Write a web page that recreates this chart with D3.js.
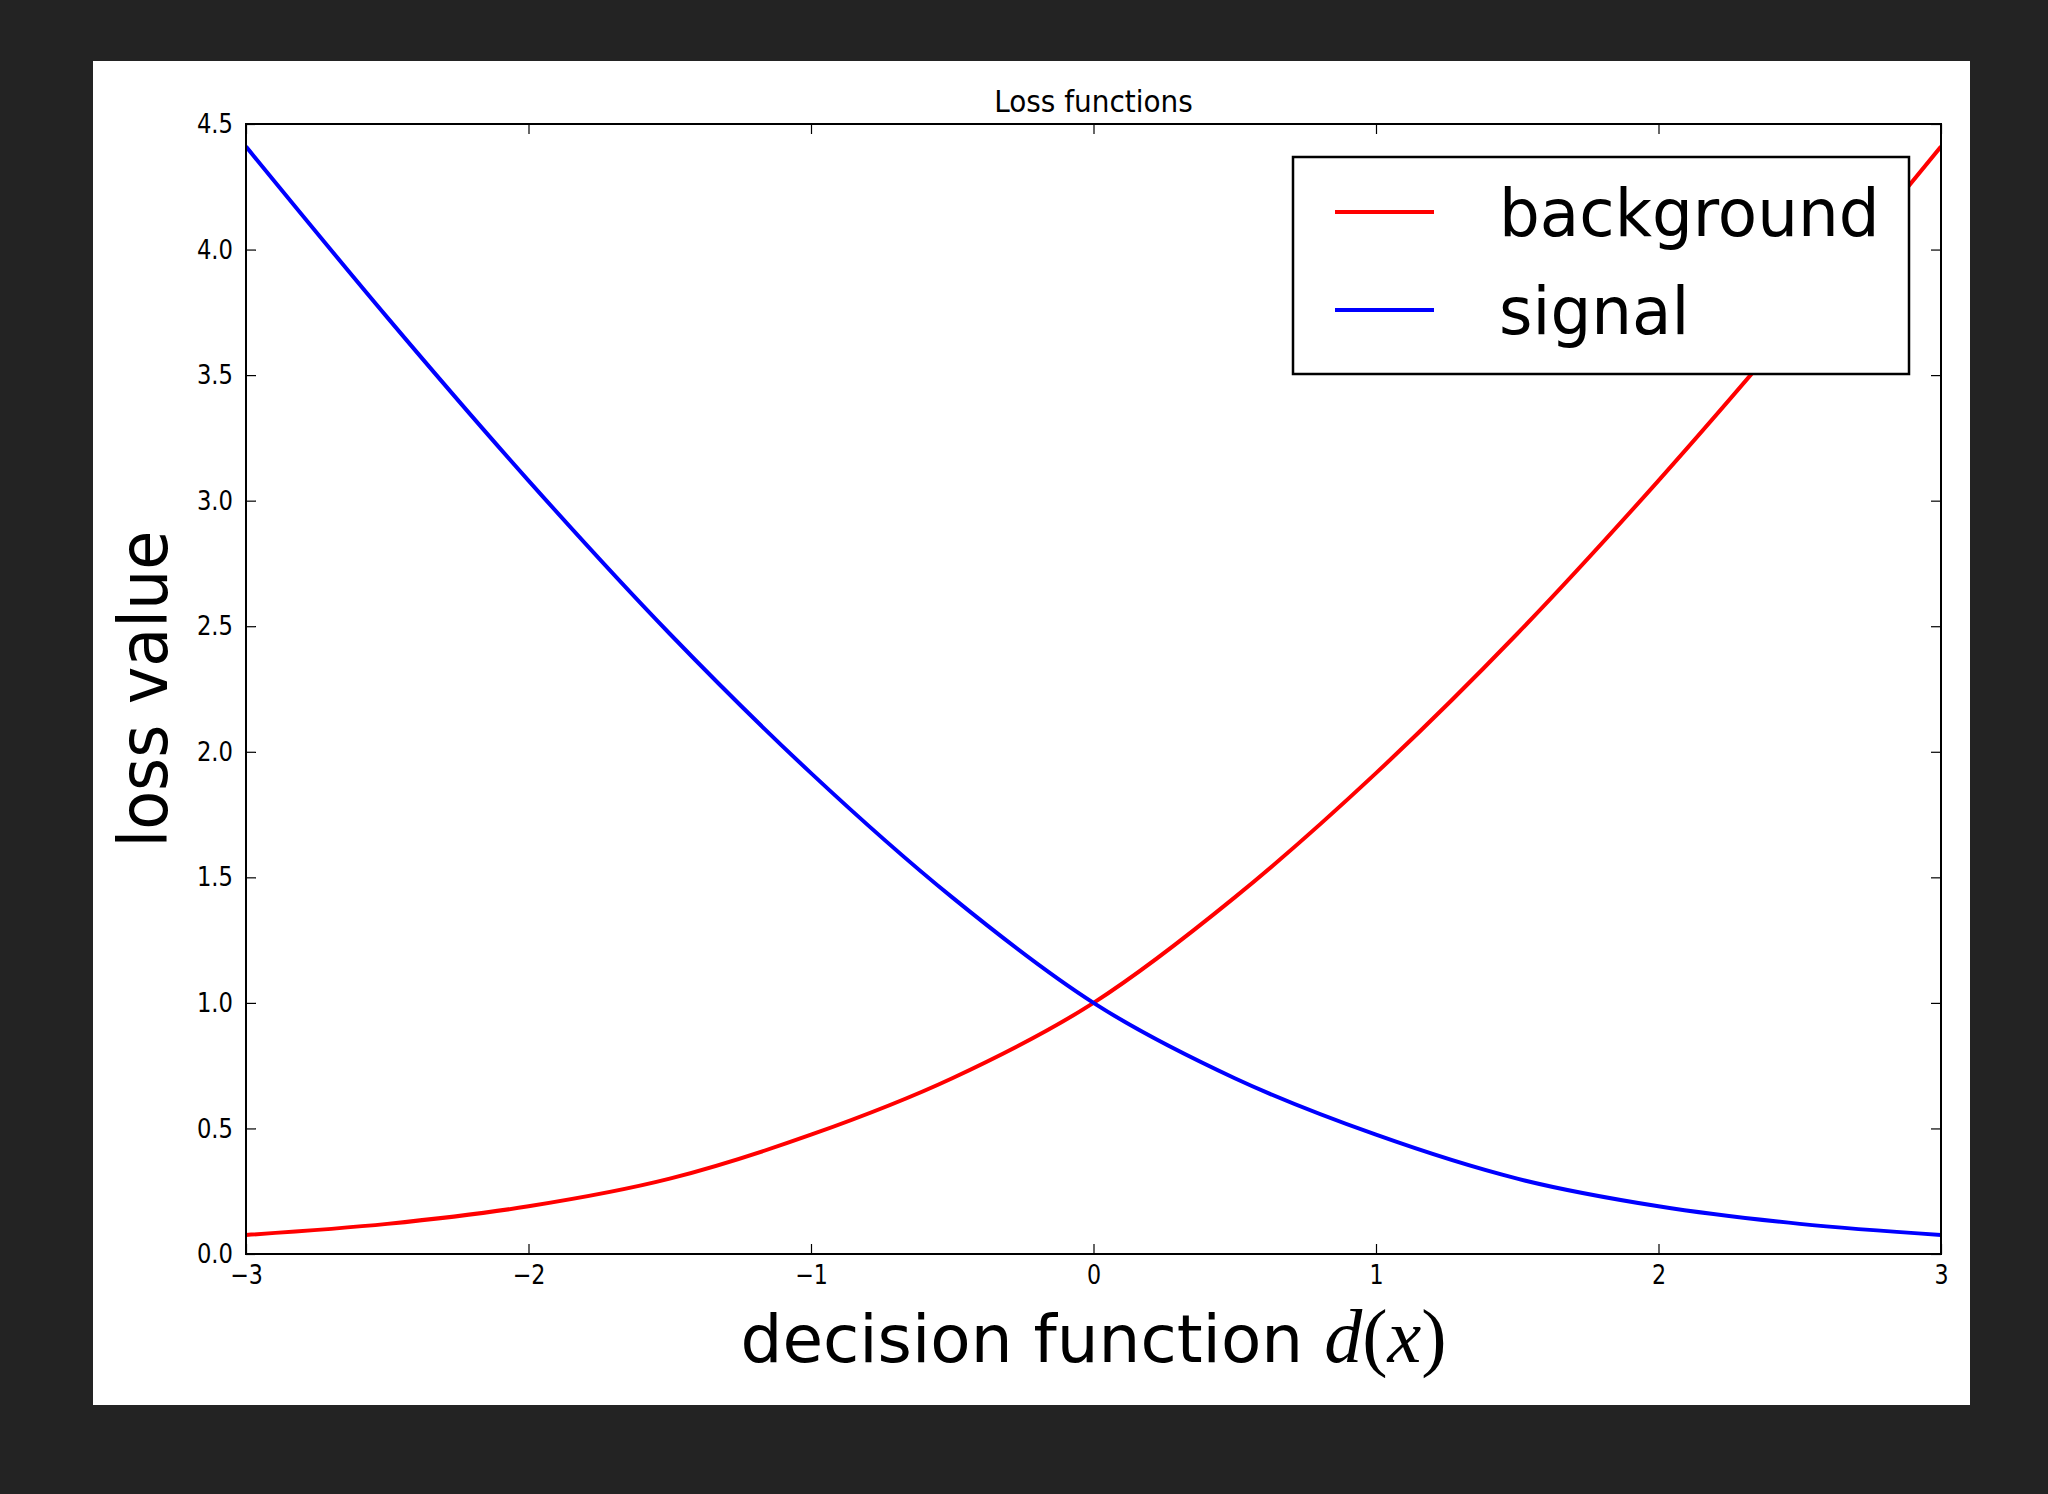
<!DOCTYPE html>
<html>
<meta charset="utf-8">
<script src="https://cdn.jsdelivr.net/npm/d3@7"></script>
<style>
  body { margin: 0; background: #232323; }
  text { font-family: "DejaVu Sans"; fill: #000; }
</style>
<body>
<div id="plot_area"></div>
</body>
<script>

// values
var xValues = [-3, -2.5, -2, -1.5, -1, -0.5, 0, 0.5, 1, 1.5, 2, 2.5, 3];
var backgroundLoss = [0.076, 0.12, 0.19, 0.30, 0.475, 0.70, 1.0, 1.42, 1.915, 2.47, 3.08, 3.73, 4.41];
var signalLoss = [4.41, 3.73, 3.08, 2.47, 1.915, 1.42, 1.0, 0.70, 0.475, 0.30, 0.19, 0.12, 0.076];
var xTicks = [-3, -2, -1, 0, 1, 2, 3];
var yTicks = [0, 0.5, 1, 1.5, 2, 2.5, 3, 3.5, 4, 4.5];
var seriesNames = ["background", "signal"];
var seriesColors = ["#ff0000", "#0000ff"];

var W = 2048, H = 1494;
var margin = {top: 124, right: 107, bottom: 240, left: 246},
    width = W - margin.left - margin.right,
    height = H - margin.top - margin.bottom;

var root = d3.select("#plot_area")
  .append("svg")
    .attr("width", W)
    .attr("height", H);

// white figure panel
root.append("rect")
  .attr("x", 93).attr("y", 61)
  .attr("width", 1877).attr("height", 1344)
  .attr("fill", "#ffffff");

var svg = root.append("g")
  .attr("transform", "translate(" + margin.left + "," + margin.top + ")");

var x = d3.scaleLinear().domain([-3, 3]).range([0, width]);
var y = d3.scaleLinear().domain([0, 4.5]).range([height, 0]);

function squeeze(sel, k) {
  sel.each(function() {
    var w = this.getComputedTextLength();
    d3.select(this).attr("textLength", w * k).attr("lengthAdjust", "spacingAndGlyphs");
  });
}

var fmtX = function(d) { return d < 0 ? "\u2212" + Math.abs(d) : "" + d; };

// bottom + left axes with inward ticks
var gx = svg.append("g")
  .attr("transform", "translate(0," + height + ")")
  .call(d3.axisBottom(x).tickValues(xTicks).tickFormat(fmtX)
    .tickSizeInner(-10).tickSizeOuter(0).tickPadding(11));
var gy = svg.append("g")
  .call(d3.axisLeft(y).tickValues(yTicks).tickFormat(d3.format(".1f"))
    .tickSizeInner(-10).tickSizeOuter(0).tickPadding(13));
// top + right: ticks only
svg.append("g")
  .call(d3.axisTop(x).tickValues(xTicks).tickFormat("")
    .tickSizeInner(-10).tickSizeOuter(0));
svg.append("g")
  .attr("transform", "translate(" + width + ",0)")
  .call(d3.axisRight(y).tickValues(yTicks).tickFormat("")
    .tickSizeInner(-10).tickSizeOuter(0));

svg.selectAll(".domain").remove();
svg.selectAll(".tick line").attr("stroke", "#000").attr("stroke-width", 1.2);
svg.selectAll(".tick text")
  .style("font-family", "DejaVu Sans")
  .style("font-size", "27px")
  .attr("fill", "#1a1a1a");
squeeze(gx.selectAll(".tick text"), 0.82);
squeeze(gy.selectAll(".tick text"), 0.84);

// curves
var line = d3.line()
  .x(function(d) { return x(d[0]); })
  .y(function(d) { return y(d[1]); })
  .curve(d3.curveMonotoneX);

svg.append("clipPath").attr("id", "clip")
  .append("rect").attr("width", width).attr("height", height);

[backgroundLoss, signalLoss].forEach(function(vals, i) {
  svg.append("path")
    .datum(xValues.map(function(v, j) { return [v, vals[j]]; }))
    .attr("clip-path", "url(#clip)")
    .attr("fill", "none")
    .attr("stroke", seriesColors[i])
    .attr("stroke-width", 4)
    .attr("d", line);
});

// axes frame
svg.append("rect")
  .attr("width", width).attr("height", height)
  .attr("fill", "none")
  .attr("stroke", "#000")
  .attr("stroke-width", 2);

// legend
var legW = 616, legH = 217;
var legend = svg.append("g")
  .attr("transform", "translate(" + (width - 32 - legW) + ",33)");
legend.append("rect")
  .attr("width", legW).attr("height", legH)
  .attr("fill", "#fff")
  .attr("stroke", "#000")
  .attr("stroke-width", 2.5);
seriesNames.forEach(function(name, i) {
  var row = legend.append("g").attr("transform", "translate(0," + (55 + i * 98) + ")");
  row.append("line")
    .attr("x1", 42).attr("x2", 141)
    .attr("stroke", seriesColors[i])
    .attr("stroke-width", 4);
  var t = row.append("text")
    .attr("x", 206).attr("y", 24)
    .style("font-size", "66px")
    .text(name);
  squeeze(t, 0.975);
});

// title
var title = svg.append("text")
  .attr("x", width / 2).attr("y", -12)
  .attr("text-anchor", "middle")
  .style("font-size", "30px")
  .text("Loss functions");
squeeze(title, 0.93);

// y label
var ylab = svg.append("text")
  .attr("transform", "translate(-79," + (height / 2) + ")rotate(-90)")
  .attr("text-anchor", "middle")
  .style("font-size", "67px")
  .text("loss value");
squeeze(ylab, 0.95);

// x label with math part
var xlab = svg.append("text")
  .attr("x", width / 2).attr("y", height + 108)
  .attr("text-anchor", "middle")
  .style("font-size", "66px");
xlab.append("tspan").text("decision function ");
xlab.append("tspan").style("font-family", "Liberation Serif").style("font-style", "italic")
  .style("font-size", "76px").text("d");
xlab.append("tspan").style("font-family", "Liberation Serif")
  .style("font-size", "76px").text("(");
xlab.append("tspan").style("font-family", "Liberation Serif").style("font-style", "italic")
  .style("font-size", "76px").text("x");
xlab.append("tspan").style("font-family", "Liberation Serif")
  .style("font-size", "76px").text(")");

</script>
</html>
